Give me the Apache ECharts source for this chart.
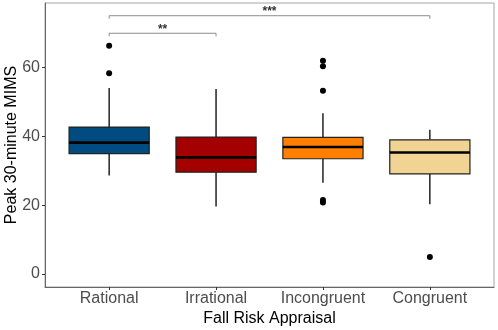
<!DOCTYPE html>
<html>
<head>
<meta charset="utf-8">
<script src="https://cdn.jsdelivr.net/npm/echarts@6/dist/echarts.min.js"></script>
<style>
  html, body { margin: 0; padding: 0; background: #fff; }
  #chart { width: 498px; height: 330px; }
</style>
</head>
<body>
<div id="chart"></div>
<script>
// groups on the x axis
var categories = ['Rational', 'Irrational', 'Incongruent', 'Congruent'];
var boxColors = ['#004b80', '#a40000', '#ff7f00', '#f1d393'];
// [lower whisker, Q1, median, Q3, upper whisker]
var boxStats = [
    [28.6, 35.0, 38.2, 42.7, 54.1],
    [19.6, 29.6, 33.9, 39.8, 53.8],
    [26.5, 33.5, 36.9, 39.7, 46.7],
    [20.3, 29.1, 35.3, 39.0, 41.9]
];
// [group index (1-based), value]
var outliers = [
    [1, 66.4], [1, 58.4],
    [3, 62.0], [3, 60.4], [3, 53.3], [3, 21.5], [3, 20.8],
    [4, 4.9]
];
// significance brackets: [from group, to group, height, label]
var brackets = [
    [1, 2, 70.0, '**'],
    [1, 4, 75.1, '***']
];
var yTicks = [0, 20, 40, 60];
var xTicks = [1, 2, 3, 4];

var myChart = echarts.init(document.getElementById('chart'));

var tickFont = {
    color: '#4d4d4d',
    fontSize: 16,
    fontFamily: 'Liberation Sans, Arial, sans-serif'
};

var option = {
    backgroundColor: '#fff',
    animation: false,
    grid: {
        left: 45, top: 3, right: 4, bottom: 43,
        containLabel: false,
        outerBoundsMode: 'none',
        show: true,
        borderColor: '#a6a6a6',
        borderWidth: 1
    },
    xAxis: {
        type: 'value',
        min: 0.4,
        max: 4.6,
        name: 'Fall Risk Appraisal',
        nameLocation: 'middle',
        nameGap: 24,
        nameMoveOverlap: false,
        nameTextStyle: { color: '#000', fontSize: 16, fontFamily: 'Liberation Sans, Arial, sans-serif' },
        axisLine: { show: true, onZero: false, lineStyle: { color: '#666', width: 1 } },
        axisTick: { show: true, length: 3, customValues: xTicks, lineStyle: { color: '#333' } },
        axisLabel: Object.assign({
            margin: 4,
            customValues: xTicks,
            formatter: function (v) { return categories[Math.round(v) - 1]; }
        }, tickFont),
        splitLine: { show: false }
    },
    yAxis: {
        type: 'value',
        min: -3.8,
        max: 78.8,
        name: 'Peak 30-minute MIMS',
        nameLocation: 'middle',
        nameGap: 25,
        nameMoveOverlap: false,
        nameTextStyle: { color: '#000', fontSize: 16, fontFamily: 'Liberation Sans, Arial, sans-serif' },
        axisLine: { show: true, onZero: false, lineStyle: { color: '#666', width: 1 } },
        axisTick: { show: true, length: 3, customValues: yTicks, lineStyle: { color: '#333' } },
        axisLabel: Object.assign({ margin: 5, customValues: yTicks }, tickFont),
        splitLine: { show: false }
    },
    series: [
        {
            // boxes, whiskers and thick medians
            type: 'custom',
            data: boxStats.map(function (s, i) { return [i + 1].concat(s); }),
            renderItem: function (params, api) {
                var x = api.value(0);
                var lo = api.coord([x, api.value(1)]);
                var q1 = api.coord([x, api.value(2)]);
                var md = api.coord([x, api.value(3)]);
                var q3 = api.coord([x, api.value(4)]);
                var hi = api.coord([x, api.value(5)]);
                var half = api.size([0.75, 0])[0] / 2;
                var cx = lo[0];
                return {
                    type: 'group',
                    children: [
                        { type: 'line', shape: { x1: cx, y1: q3[1], x2: cx, y2: hi[1] }, style: { stroke: '#000', lineWidth: 1.3 } },
                        { type: 'line', shape: { x1: cx, y1: q1[1], x2: cx, y2: lo[1] }, style: { stroke: '#000', lineWidth: 1.3 } },
                        { type: 'rect', shape: { x: cx - half, y: q3[1], width: half * 2, height: q1[1] - q3[1] },
                          style: { fill: boxColors[params.dataIndex], stroke: '#222', lineWidth: 1.2 } },
                        { type: 'line', shape: { x1: cx - half, y1: md[1], x2: cx + half, y2: md[1] }, style: { stroke: '#000', lineWidth: 2.6 } }
                    ]
                };
            }
        },
        {
            type: 'scatter',
            data: outliers,
            symbolSize: 6,
            itemStyle: { color: '#000', opacity: 1 }
        },
        {
            // significance brackets
            type: 'custom',
            data: brackets,
            renderItem: function (params, api) {
                var a = api.coord([api.value(0), api.value(2)]);
                var b = api.coord([api.value(1), api.value(2)]);
                var label = brackets[params.dataIndex][3];
                return {
                    type: 'group',
                    children: [
                        { type: 'polyline', shape: { points: [[a[0], a[1] + 3], [a[0], a[1]], [b[0], b[1]], [b[0], b[1] + 3]] },
                          style: { stroke: '#8c8c8c', lineWidth: 1, fill: null } },
                        { type: 'text', x: (a[0] + b[0]) / 2, y: a[1] + 2,
                          style: { text: label, textAlign: 'center', textVerticalAlign: 'bottom', fill: '#333',
                                   fontSize: 12, fontWeight: 'bold', fontFamily: 'Liberation Sans, Arial, sans-serif' } }
                    ]
                };
            }
        }
    ]
};
myChart.setOption(option);
</script>
</body>
</html>
